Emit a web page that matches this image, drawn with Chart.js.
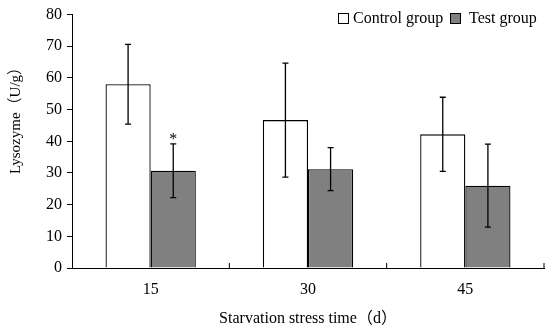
<!DOCTYPE html>
<html>
<head>
<meta charset="utf-8">
<script src="https://cdn.jsdelivr.net/npm/chart.js@4/dist/chart.umd.min.js"></script>
<style>
  html, body { margin: 0; padding: 0; background: #fff; }
  #wrap { width: 550px; height: 332px; position: relative; }
</style>
</head>
<body>
<div id="wrap"><canvas id="chart"></canvas></div>
<script>
// Data
const days = ['15', '30', '45'];
const controlMean = [58, 46.7, 42.2];
const controlSd = [12.6, 18, 11.7];
const testMean = [30.7, 31.2, 26];
const testSd = [8.5, 6.8, 13.1];
const marks = ['*', '', ''];   // significance marks on test group
const yTicks = [0, 10, 20, 30, 40, 50, 60, 70, 80];

const FONT = "'Times New Roman', 'Liberation Serif', 'Noto Sans CJK SC', serif";

// error bars, significance stars, inward x ticks, y title and the legend
const extras = {
    id: 'extras',
    afterDatasetsDraw(chart) {
        const ctx = chart.ctx;
        const y = chart.scales.y;
        const x = chart.scales.x;
        const sds = [controlSd, testSd];
        ctx.save();
        ctx.strokeStyle = '#000';
        ctx.lineWidth = 1.3;
        chart.data.datasets.forEach((ds, di) => {
            const meta = chart.getDatasetMeta(di);
            meta.data.forEach((bar, i) => {
                const top = y.getPixelForValue(ds.data[i] + sds[di][i]);
                const bot = y.getPixelForValue(ds.data[i] - sds[di][i]);
                ctx.beginPath();
                ctx.moveTo(bar.x, top); ctx.lineTo(bar.x, bot);
                ctx.moveTo(bar.x - 3, top); ctx.lineTo(bar.x + 3, top);
                ctx.moveTo(bar.x - 3, bot); ctx.lineTo(bar.x + 3, bot);
                ctx.stroke();
                if (di === 1 && marks[i]) {
                    ctx.fillStyle = '#000';
                    ctx.font = '16px ' + FONT;
                    ctx.textAlign = 'center';
                    ctx.textBaseline = 'bottom';
                    ctx.fillText(marks[i], bar.x, top + 4);
                }
            });
        });
        // x ticks at category boundaries, pointing up
        const half = (x.getPixelForValue(1) - x.getPixelForValue(0)) / 2;
        ctx.lineWidth = 1;
        days.forEach((d, i) => {
            const px = x.getPixelForValue(i) + half;
            ctx.beginPath();
            ctx.moveTo(px, y.bottom); ctx.lineTo(px, y.bottom - 5);
            ctx.stroke();
        });
        // y axis title (sits above the middle in the original)
        ctx.fillStyle = '#000';
        ctx.font = '15px ' + FONT;
        ctx.textAlign = 'center';
        ctx.textBaseline = 'middle';
        ctx.save();
        ctx.translate(16, 117);
        ctx.rotate(-Math.PI / 2);
        ctx.fillText('Lysozyme（U/g）', 0, 0);
        ctx.restore();
        // legend
        ctx.font = '16px ' + FONT;
        ctx.textAlign = 'left';
        ctx.textBaseline = 'middle';
        const items = [
            { label: 'Control group', fill: '#fff', x: 338 },
            { label: 'Test group', fill: '#808080', x: 450 }
        ];
        items.forEach(it => {
            ctx.fillStyle = it.fill;
            ctx.fillRect(it.x + 0.5, 13.5, 10, 10);
            ctx.strokeRect(it.x + 0.5, 13.5, 10, 10);
            ctx.fillStyle = '#000';
            ctx.fillText(it.label, it.x + (it.label === 'Test group' ? 19 : 15), 19);
        });
        ctx.restore();
    }
};

const ctx = document.getElementById('chart').getContext('2d');
new Chart(ctx, {
    type: 'bar',
    data: {
        labels: days,
        datasets: [
            {
                label: 'Control group',
                data: controlMean,
                backgroundColor: '#ffffff',
                borderColor: '#000',
                borderWidth: 1.3
            },
            {
                label: 'Test group',
                data: testMean,
                backgroundColor: '#808080',
                borderColor: '#000',
                borderWidth: 1.3
            }
        ]
    },
    options: {
        responsive: true,
        maintainAspectRatio: false,
        animation: false,
        layout: { padding: { top: 10, right: 6, left: 0, bottom: 0 } },
        datasets: { bar: { categoryPercentage: 0.574, barPercentage: 1 } },
        plugins: {
            legend: { display: false },
            tooltip: { enabled: false }
        },
        scales: {
            x: {
                grid: { display: false, drawTicks: false },
                border: { display: true, color: '#000', width: 1 },
                ticks: { color: '#000', padding: 12, font: { family: FONT, size: 16 } },
                title: {
                    display: true,
                    text: 'Starvation stress time（d）',
                    color: '#000',
                    font: { family: FONT, size: 16 },
                    padding: { top: 12 }
                },
                afterFit(scale) { scale.height = 64; }
            },
            y: {
                min: 0,
                max: 80,
                afterBuildTicks(scale) { scale.ticks = yTicks.map(v => ({ value: v })); },
                grid: { drawOnChartArea: false, drawTicks: true, tickLength: 5, color: '#000' },
                border: { display: true, color: '#000', width: 1 },
                ticks: { color: '#000', padding: 5, font: { family: FONT, size: 16 } },
                afterFit(scale) { scale.width = 72; }
            }
        }
    },
    plugins: [extras]
});
</script>
</body>
</html>
